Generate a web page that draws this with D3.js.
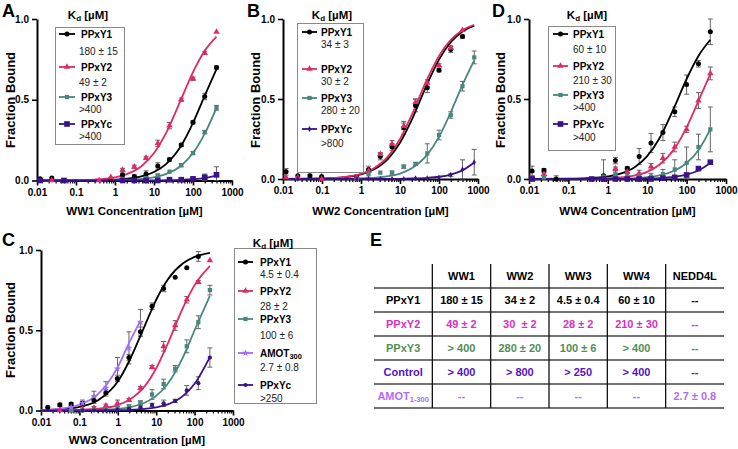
<!DOCTYPE html>
<html>
<head>
<meta charset="utf-8">
<script src="https://cdn.jsdelivr.net/npm/d3@7"></script>
<style>
  body { margin: 0; background: #fff; }
  text { font-family: "Liberation Sans", Arial, sans-serif; }
</style>
</head>
<body>
<svg id="fig" width="738" height="449"></svg>
<script>
// ---- panel A (WW1) ----
const concA = [0.012, 0.024, 0.049, 0.39, 0.78, 1.56, 3.125, 6.25, 12.5, 25, 50, 100, 200, 400];
const a_y1 = [0.01, 0.015, null, null, 0.01, 0.035, 0.025, 0.04, 0.09, 0.13, 0.22, 0.36, 0.52, 0.70];
const a_y1Err = [0.005, 0.005, 0, 0, 0.005, 0.01, 0.01, 0.02, 0.02, 0.01, 0.01, 0.01, 0.02, 0.01];
const a_y2 = [null, 0.0, null, 0.0, 0.02, 0.065, 0.085, 0.14, 0.23, 0.34, 0.50, 0.63, 0.79, 0.92];
const a_y2Err = [0, 0.005, 0, 0.005, 0.005, 0.01, 0.01, 0.01, 0.02, 0.02, 0.01, 0.01, 0.01, 0.005];
const a_y3 = [0.0, null, null, null, null, 0.01, 0.0, 0.015, 0.03, 0.055, 0.095, 0.17, 0.30, 0.45];
const a_y3Err = [0, 0, 0, 0, 0, 0.005, 0.005, 0.01, 0.01, 0.005, 0.01, 0.01, 0.01, 0.015];
const a_yc = [0.0, null, 0.0, null, null, 0.0, 0.0, 0.0, 0.0, 0.005, 0.005, 0.01, 0.02, 0.035];
const a_ycErr = [0, 0, 0, 0, 0, 0.005, 0.005, 0.01, 0.005, 0.005, 0.005, 0.01, 0.02, 0.05];
const fitXA = [0.01, 0.1, 0.3, 1, 2, 5, 10, 20, 50, 100, 200, 400];
const a_y1Fit = [0.0001, 0.0006, 0.0017, 0.0055, 0.011, 0.027, 0.053, 0.10, 0.217, 0.357, 0.526, 0.69];
const a_y2Fit = [0.0002, 0.002, 0.006, 0.02, 0.039, 0.093, 0.17, 0.29, 0.505, 0.671, 0.803, 0.891];
const a_y3Fit = [0, 0.0002, 0.0006, 0.002, 0.004, 0.01, 0.02, 0.039, 0.093, 0.17, 0.29, 0.45];
const a_ycFit = [0, 0, 0, 0.0001, 0.0002, 0.0004, 0.0008, 0.0015, 0.004, 0.008, 0.015, 0.03];
const a_kd = ['180 \u00b1 15', '49 \u00b1 2', '>400', '>400'];

// ---- panel B (WW2) ----
const concB = [0.012, 0.024, 0.049, 0.098, 0.78, 1.56, 3.125, 6.25, 12.5, 25, 50, 100, 200, 400, 800];
const b_y1 = [0.045, 0.02, 0.02, 0.015, 0.01, 0.06, 0.14, 0.20, 0.32, 0.46, 0.57, 0.68, 0.81, 0.89, null];
const b_y1Err = [0.02, 0.005, 0.01, 0.03, 0.005, 0.02, 0.02, 0.02, 0.04, 0.04, 0.03, 0.01, 0.02, 0.01, 0];
const b_y2 = [0.01, 0.01, null, 0.0, 0.01, 0.05, 0.155, 0.22, 0.33, 0.48, 0.60, 0.71, 0.82, 0.93, null];
const b_y2Err = [0.005, 0.005, 0, 0.005, 0.005, 0.01, 0.01, 0.02, 0.02, 0.02, 0.02, 0.01, 0.01, 0.005, 0];
const b_y3 = [null, null, null, null, 0.0, 0.03, 0.04, 0.04, 0.077, 0.094, 0.16, 0.275, 0.40, 0.58, 0.76];
const b_y3Err = [0, 0, 0, 0, 0.005, 0.02, 0.005, 0.01, 0.01, 0.01, 0.06, 0.03, 0.02, 0.03, 0.04];
const b_yc = [null, 0.0, null, null, 0.0, 0.0, 0.0, 0.0, 0.0, 0.005, 0.005, 0.01, 0.025, 0.06, 0.105];
const b_ycErr = [0, 0, 0, 0, 0, 0, 0, 0, 0, 0, 0, 0.005, 0.01, 0.06, 0.08];
const fitXB = [0.01, 0.1, 0.3, 1, 2, 5, 10, 20, 50, 100, 200, 400, 800];
const b_y1Fit = [0.0003, 0.003, 0.009, 0.029, 0.056, 0.128, 0.227, 0.37, 0.595, 0.746, 0.855, 0.922, 0.959];
const b_y2Fit = [0.0003, 0.003, 0.01, 0.032, 0.063, 0.143, 0.25, 0.40, 0.625, 0.769, 0.87, 0.93, 0.964];
const b_y3Fit = [0, 0.0004, 0.001, 0.004, 0.007, 0.018, 0.034, 0.067, 0.152, 0.263, 0.417, 0.588, 0.741];
const b_ycFit = [0, 0, 0, 0.0001, 0.0003, 0.0007, 0.0014, 0.003, 0.007, 0.014, 0.028, 0.054, 0.103];
const b_kd = ['34 \u00b1 3', '30 \u00b1 2', '280 \u00b1 20', '>800'];

// ---- panel C (WW3) ----
const concC = [0.015, 0.031, 0.061, 0.12, 0.24, 0.49, 0.98, 1.95, 3.9, 7.8, 15.6, 31.25, 62.5, 125, 250];
const c_y1 = [0.02, 0.035, 0.04, 0.045, 0.065, 0.11, 0.20, 0.33, 0.49, 0.65, 0.76, 0.83, 0.89, 0.96, null];
const c_y1Err = [0.005, 0.01, 0.01, 0.01, 0.02, 0.02, 0.02, 0.02, 0.03, 0.02, 0.02, 0.005, 0.005, 0.03, 0];
const c_y2 = [null, 0.0, 0.0, 0.01, 0.015, 0.03, 0.045, 0.065, 0.14, 0.27, 0.40, 0.53, 0.69, 0.80, 0.935];
const c_y2Err = [0, 0.005, 0.005, 0.005, 0.01, 0.01, 0.02, 0.01, 0.01, 0.01, 0.03, 0.03, 0.02, 0.01, 0.005];
const c_y3 = [null, null, 0.0, 0.0, 0.005, 0.01, 0.015, 0.025, 0.05, 0.10, 0.165, 0.26, 0.40, 0.55, 0.75];
const c_y3Err = [0, 0, 0.005, 0.005, 0.005, 0.005, 0.01, 0.01, 0.01, 0.03, 0.03, 0.02, 0.04, 0.04, 0.03];
const c_amot = [null, null, 0.02, 0.045, 0.09, 0.14, 0.26, 0.39, 0.55, null, null, null, null, null, null];
const c_amotErr = [0, 0, 0.01, 0.02, 0.03, 0.04, 0.07, 0.10, 0.08, 0, 0, 0, 0, 0, 0];
const c_yc = [null, null, null, 0.0, 0.0, 0.0, 0.005, 0.01, 0.02, 0.035, 0.045, 0.06, 0.125, 0.17, 0.33];
const c_ycErr = [0, 0, 0, 0, 0, 0, 0.005, 0.005, 0.01, 0.01, 0.02, 0.01, 0.03, 0.04, 0.06];
const fitXC = [0.01, 0.03, 0.1, 0.3, 1, 2, 5, 10, 20, 50, 100, 250];
const c_y1Fit = [0.002, 0.0066, 0.022, 0.0625, 0.18, 0.31, 0.526, 0.69, 0.816, 0.917, 0.957, 0.982];
const c_y2Fit = [0.0004, 0.001, 0.0036, 0.011, 0.034, 0.067, 0.15, 0.263, 0.417, 0.641, 0.781, 0.899];
const c_y3Fit = [0.0001, 0.0003, 0.001, 0.003, 0.01, 0.02, 0.048, 0.091, 0.167, 0.333, 0.5, 0.714];
const c_ycFit = [0, 0.0001, 0.0002, 0.0006, 0.002, 0.004, 0.01, 0.02, 0.038, 0.091, 0.167, 0.333];
const fitXC_amot = [0.01, 0.03, 0.1, 0.3, 1, 2, 3.9];
const c_amotFit = [0.004, 0.011, 0.036, 0.1, 0.27, 0.425, 0.56];
const c_kd = ['4.5 \u00b1 0.4', '28 \u00b1 2', '100 \u00b1 6', '2.7 \u00b1 0.8', '>250'];

// ---- panel D (WW4) ----
const concD = [0.012, 0.024, 0.049, 0.39, 0.78, 1.56, 3.125, 6.25, 12.5, 25, 50, 100, 200, 400];
const d_y1 = [0.05, 0.055, 0.0, null, 0.02, 0.115, 0.067, 0.14, 0.225, 0.29, 0.42, 0.59, 0.72, 0.92];
const d_y1Err = [0.03, 0.01, 0.02, 0, 0.1, 0.02, 0.01, 0.05, 0.06, 0.05, 0.03, 0.06, 0.02, 0.08];
const d_y2 = [0.0, 0.03, null, null, 0.0, 0.065, 0.045, 0.035, 0.077, 0.13, 0.20, 0.31, 0.49, 0.66];
const d_y2Err = [0.01, 0.01, 0, 0, 0.01, 0.01, 0.01, 0.02, 0.02, 0.03, 0.03, 0.02, 0.05, 0.04];
const d_y3 = [0.01, 0.01, null, null, 0.015, 0.03, 0.02, 0.015, 0.015, 0.03, 0.06, 0.10, 0.20, 0.31];
const d_y3Err = [0.01, 0.01, 0, 0, 0.01, 0.02, 0.02, 0.02, 0.02, 0.03, 0.06, 0.10, 0.08, 0.14];
const d_yc = [0.0, null, null, 0.0, 0.0, 0.0, 0.0, 0.0, 0.0, 0.005, 0.01, 0.025, 0.065, 0.105];
const d_ycErr = [0, 0, 0, 0, 0, 0, 0, 0, 0, 0.005, 0.005, 0.01, 0.01, 0.005];
const fitXD = [0.01, 0.1, 0.3, 1, 2, 5, 10, 20, 50, 100, 200, 400];
const d_y1Fit = [0.0002, 0.0017, 0.005, 0.016, 0.032, 0.077, 0.143, 0.25, 0.455, 0.625, 0.769, 0.87];
const d_y2Fit = [0, 0.0005, 0.0014, 0.005, 0.0094, 0.023, 0.045, 0.087, 0.192, 0.323, 0.488, 0.656];
const d_y3Fit = [0, 0.0001, 0.0003, 0.001, 0.002, 0.0055, 0.011, 0.022, 0.053, 0.1, 0.18, 0.31];
const d_ycFit = [0, 0, 0, 0.0003, 0.0006, 0.0014, 0.003, 0.0055, 0.014, 0.027, 0.053, 0.1];
const d_kd = ['60 \u00b1 10', '210 \u00b1 30', '>400', '>400'];

// ---- table E ----
const tableHeader = ['', 'WW1', 'WW2', 'WW3', 'WW4', 'NEDD4L'];
const tableRowNames = ['PPxY1', 'PPxY2', 'PPxY3', 'Control', 'AMOT'];
const tableCells = [
  ['180 \u00b1 15', '34 \u00b1 2', '4.5 \u00b1 0.4', '60 \u00b1 10', '--'],
  ['49 \u00b1 2', '30  \u00b1 2', '28 \u00b1 2', '210 \u00b1 30', '--'],
  ['> 400', '280 \u00b1 20', '100 \u00b1 6', '> 400', '--'],
  ['> 400', '> 800', '> 250', '> 400', '--'],
  ['--', '--', '--', '--', '2.7 \u00b1 0.8']
];

const xTicks = [0.01, 0.1, 1, 10, 100, 1000];
const yTicks = [0, 0.5, 1];

// colours / markers
const col = {y1: '#000000', y2: '#e0296b', y3: '#47877f', yc: '#3b1187', amot: '#a46bff'};
const tableColors = ['#000000', '#d92fc4', '#4f8f55', '#5512c8', '#b46cf5'];

const svg = d3.select('#fig');
svg.append('rect').attr('width', 738).attr('height', 449).attr('fill', '#fff');

function mk(key, name, conc, vals, errs, fitX, fit, symbol, size) {
  return {key, name, color: col[key], symbol, size,
    pts: conc.map((c, i) => ({c, v: vals[i], e: errs[i]})).filter(d => d.v !== null),
    fit: fitX.map((c, i) => [c, fit[i]])};
}

const panels = [
  {letter: 'A', lx: 2, ly: 17, xr: [37, 232], yr: [180.5, 19], ytx: 10, yty: 100, xTitle: 'WW1 Concentration [\u00b5M]', xty: 211,
   legend: {box: [55, 27, 69, 117], tx: 88, ty: 15, names: [34, 67, 97, 124], vals: [51, 82, 109, 136], sx: [59, 75], nx: 81, vx: 79}, kd: a_kd,
   series: [
     mk('y1', 'PPxY1', concA, a_y1, a_y1Err, fitXA, a_y1Fit, d3.symbolCircle, 20),
     mk('y2', 'PPxY2', concA, a_y2, a_y2Err, fitXA, a_y2Fit, d3.symbolTriangle, 18),
     mk('y3', 'PPxY3', concA, a_y3, a_y3Err, fitXA, a_y3Fit, d3.symbolSquare, 18),
     mk('yc', 'PPxYc', concA, a_yc, a_ycErr, fitXA, a_ycFit, d3.symbolSquare, 32)]},
  {letter: 'B', lx: 247, ly: 17, xr: [283, 478], yr: [179, 19], ytx: 255, yty: 100, xTitle: 'WW2 Concentration [\u00b5M]', xty: 211,
   legend: {box: [297, 23, 66, 149], tx: 332, ty: 15, names: [32, 69, 98, 129], vals: [44, 81, 110, 143], sx: [302, 317], nx: 321, vx: 321}, kd: b_kd,
   series: [
     mk('y1', 'PPxY1', concB, b_y1, b_y1Err, fitXB, b_y1Fit, d3.symbolCircle, 20),
     mk('y2', 'PPxY2', concB, b_y2, b_y2Err, fitXB, b_y2Fit, d3.symbolTriangle, 18),
     mk('y3', 'PPxY3', concB, b_y3, b_y3Err, fitXB, b_y3Fit, d3.symbolSquare, 18),
     mk('yc', 'PPxYc', concB, b_yc, b_ycErr, fitXB, b_ycFit, d3.symbolDiamond, 10)]},
  {letter: 'C', lx: 2, ly: 246, xr: [41, 233], yr: [410.5, 250], ytx: 10, yty: 330, xTitle: 'WW3 Concentration [\u00b5M]', xty: 440,
   legend: {box: [234, 248, 82, 155], tx: 273, ty: 243, names: [262, 291, 319, 353, 385], vals: [274, 306, 335, 367, 398], sx: [238, 253], nx: 260, vx: 260}, kd: c_kd,
   series: [
     mk('y1', 'PPxY1', concC, c_y1, c_y1Err, fitXC, c_y1Fit, d3.symbolCircle, 20),
     mk('y2', 'PPxY2', concC, c_y2, c_y2Err, fitXC, c_y2Fit, d3.symbolTriangle, 18),
     mk('y3', 'PPxY3', concC, c_y3, c_y3Err, fitXC, c_y3Fit, d3.symbolSquare, 18),
     mk('amot', 'AMOT', concC, c_amot, c_amotErr, fitXC_amot, c_amotFit, d3.symbolStar, 16),
     mk('yc', 'PPxYc', concC, c_yc, c_ycErr, fitXC, c_ycFit, d3.symbolCircle, 14)]},
  {letter: 'D', lx: 492, ly: 17, xr: [529, 726], yr: [179, 19], ytx: 500, yty: 100, xTitle: 'WW4 Concentration [\u00b5M]', xty: 211,
   legend: {box: [548, 26, 67, 124], tx: 587, ty: 15, names: [34, 66, 95, 124], vals: [49, 80, 107, 137], sx: [553, 568], nx: 573, vx: 573}, kd: d_kd,
   series: [
     mk('y1', 'PPxY1', concD, d_y1, d_y1Err, fitXD, d_y1Fit, d3.symbolCircle, 20),
     mk('y2', 'PPxY2', concD, d_y2, d_y2Err, fitXD, d_y2Fit, d3.symbolTriangle, 18),
     mk('y3', 'PPxY3', concD, d_y3, d_y3Err, fitXD, d_y3Fit, d3.symbolSquare, 18),
     mk('yc', 'PPxYc', concD, d_yc, d_ycErr, fitXD, d_ycFit, d3.symbolSquare, 32)]}
];

panels.forEach(p => {
  const g = svg.append('g');
  const x = d3.scaleLog().domain([0.01, 1000]).range(p.xr);
  const y = d3.scaleLinear().domain([0, 1]).range(p.yr);
  const y0 = y(0);

  // minor ticks 2..9 per decade
  const minor = [];
  for (let dec = 0.01; dec < 1000; dec *= 10) for (let k = 2; k <= 9; k++) minor.push(dec * k);

  g.append('g').attr('transform', `translate(0,${y0})`)
    .call(d3.axisBottom(x).tickValues(minor).tickSize(3).tickFormat('').tickSizeOuter(0))
    .call(a => a.select('.domain').remove())
    .call(a => a.selectAll('line').attr('stroke-width', 1.2));

  const xa = g.append('g').attr('transform', `translate(0,${y0})`)
    .call(d3.axisBottom(x).tickValues(xTicks).tickSize(5).tickPadding(3)
      .tickFormat(d => d >= 1 ? d3.format('d')(d) : String(d)).tickSizeOuter(0));
  const ya = g.append('g').attr('transform', `translate(${p.xr[0]},0)`)
    .call(d3.axisLeft(y).tickValues(yTicks).tickSize(5).tickPadding(3).tickFormat(d3.format('.1f')).tickSizeOuter(0));
  [xa, ya].forEach(a => {
    a.select('.domain').attr('stroke-width', 2);
    a.selectAll('line').attr('stroke-width', 1.6);
    a.selectAll('text').attr('font-size', 10).attr('font-weight', 'bold')
      .attr('font-family', '"Liberation Sans", Arial, sans-serif').attr('fill', '#000');
  });

  // titles
  g.append('text').attr('x', p.lx).attr('y', p.ly).text(p.letter)
    .attr('font-size', 18).attr('font-weight', 'bold');
  g.append('text').attr('transform', `translate(${p.ytx},${p.yty}) rotate(-90)`)
    .attr('text-anchor', 'middle').attr('dominant-baseline', 'central')
    .attr('font-size', 13).attr('font-weight', 'bold').text('Fraction Bound');
  g.append('text').attr('x', (p.xr[0] + p.xr[1]) / 2).attr('y', p.xty)
    .attr('text-anchor', 'middle').attr('dominant-baseline', 'central')
    .attr('font-size', 11.5).attr('font-weight', 'bold').text(p.xTitle);

  // error bars
  p.series.forEach(s => {
    const eb = g.append('g').attr('stroke', '#555').attr('stroke-width', 0.9);
    s.pts.filter(d => d.e >= 0.008).forEach(d => {
      const cx = x(d.c), t = y(d.v + d.e), b = y(Math.max(0, d.v - d.e));
      eb.append('line').attr('x1', cx).attr('x2', cx).attr('y1', t).attr('y2', b);
      eb.append('line').attr('x1', cx - 2.5).attr('x2', cx + 2.5).attr('y1', t).attr('y2', t);
      eb.append('line').attr('x1', cx - 2.5).attr('x2', cx + 2.5).attr('y1', b).attr('y2', b);
    });
  });

  // fit curves
  const line = d3.line().x(d => x(d[0])).y(d => y(d[1])).curve(d3.curveMonotoneX);
  p.series.forEach(s => {
    g.append('path').datum(s.fit).attr('d', line).attr('fill', 'none')
      .attr('stroke', s.color).attr('stroke-width', 1.8);
  });

  // markers
  p.series.forEach(s => {
    g.append('g').selectAll('path').data(s.pts).join('path')
      .attr('transform', d => `translate(${x(d.c)},${y(d.v)})`)
      .attr('d', d3.symbol().type(s.symbol).size(s.size))
      .attr('fill', s.color);
  });

  // legend
  const L = p.legend;
  g.append('rect').attr('x', L.box[0] + 0.5).attr('y', L.box[1] + 0.5)
    .attr('width', L.box[2]).attr('height', L.box[3])
    .attr('fill', '#fff').attr('stroke', '#8a8a8a').attr('stroke-width', 1);
  const kt = g.append('text').attr('x', L.tx).attr('y', L.ty).attr('text-anchor', 'middle')
    .attr('dominant-baseline', 'central').attr('font-size', 11.5).attr('font-weight', 'bold');
  kt.append('tspan').text('K');
  kt.append('tspan').text('d').attr('font-size', 8).attr('dy', 3);
  kt.append('tspan').text(' [\u00b5M]').attr('dy', -3);

  p.series.forEach((s, i) => {
    const cy = L.names[i];
    g.append('line').attr('x1', L.sx[0]).attr('x2', L.sx[1]).attr('y1', cy).attr('y2', cy)
      .attr('stroke', s.color).attr('stroke-width', 1.8);
    g.append('path').attr('transform', `translate(${(L.sx[0] + L.sx[1]) / 2},${cy})`)
      .attr('d', d3.symbol().type(s.symbol).size(s.size)).attr('fill', s.color);
    const nt = g.append('text').attr('x', L.nx).attr('y', cy).attr('dominant-baseline', 'central')
      .attr('font-size', 10).attr('font-weight', 'bold');
    nt.append('tspan').text(s.name);
    if (s.key === 'amot') nt.append('tspan').text('300').attr('font-size', 7.5).attr('dy', 3);
    g.append('text').attr('x', L.vx).attr('y', L.vals[i]).attr('dominant-baseline', 'central')
      .attr('font-size', 10).attr('fill', '#222').text(p.kd[i]);
  });
});

// ---- table E ----
const tg = svg.append('g');
tg.append('text').attr('x', 370).attr('y', 246).text('E').attr('font-size', 18).attr('font-weight', 'bold');
const colX = d3.scaleBand().domain(d3.range(tableHeader.length)).range([374, 724]);
const rowY = d3.scaleBand().domain(d3.range(tableRowNames.length + 1)).range([264, 408]);

tableHeader.forEach((h, j) => {
  tg.append('text').attr('x', colX(j) + colX.bandwidth() / 2).attr('y', rowY(0) + rowY.bandwidth() / 2)
    .attr('text-anchor', 'middle').attr('dominant-baseline', 'central')
    .attr('font-size', 11).attr('font-weight', 'bold').text(h);
});
tableRowNames.forEach((r, i) => {
  const cy = rowY(i + 1) + rowY.bandwidth() / 2;
  const rt = tg.append('text').attr('x', colX(0) + colX.bandwidth() / 2).attr('y', cy)
    .attr('text-anchor', 'middle').attr('dominant-baseline', 'central')
    .attr('font-size', 11).attr('font-weight', 'bold').attr('fill', tableColors[i]);
  rt.append('tspan').text(r);
  if (r === 'AMOT') rt.append('tspan').text('1-300').attr('font-size', 7.5).attr('dy', 3);
  tableCells[i].forEach((v, j) => {
    tg.append('text').attr('x', colX(j + 1) + colX.bandwidth() / 2).attr('y', cy)
      .attr('text-anchor', 'middle').attr('dominant-baseline', 'central')
      .style('white-space', 'pre')
      .attr('font-size', 11).attr('font-weight', 'bold').attr('fill', tableColors[i]).text(v);
  });
});
d3.range(1, tableRowNames.length + 2).forEach(i => {
  const yy = i <= tableRowNames.length ? rowY(i) : 408;
  tg.append('line').attr('x1', 374).attr('x2', 724).attr('y1', yy).attr('y2', yy)
    .attr('stroke', '#444').attr('stroke-width', 1.6);
});
d3.range(1, tableHeader.length).forEach(j => {
  tg.append('line').attr('x1', colX(j)).attr('x2', colX(j)).attr('y1', 264).attr('y2', 408)
    .attr('stroke', '#111').attr('stroke-width', 1.3);
});
</script>
</body>
</html>
